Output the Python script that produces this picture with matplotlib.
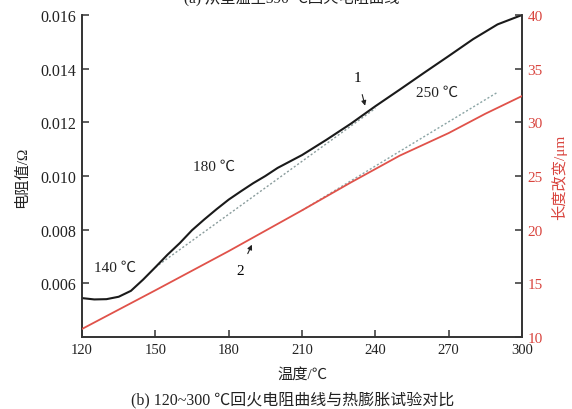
import matplotlib
matplotlib.use("Agg")
import matplotlib.pyplot as plt
import numpy as np

plt.rcParams['font.family'] = ['Liberation Serif', 'Noto Sans CJK SC', 'DejaVu Sans']

# resistance curve (curve 1), left axis
temp_r = [120, 125, 130, 135, 140, 145, 150, 155, 160, 165, 170, 175, 180, 185,
          190, 195, 200, 210, 220, 230, 240, 250, 260, 270, 280, 290, 300]
resist = [0.00545, 0.00540, 0.00541, 0.00550, 0.00572, 0.00614, 0.00660, 0.00707,
          0.00750, 0.00798, 0.00838, 0.00876, 0.00912, 0.00943, 0.00973, 0.01000,
          0.01030, 0.01078, 0.01135, 0.01195, 0.01260, 0.01322, 0.01385, 0.01447,
          0.01510, 0.01565, 0.01600]

# linear reference for curve 1
temp_d1 = [150, 240]
resist_d1 = [0.00660, 0.01252]

# dilatometry curve (curve 2), right axis
temp_l = [120, 150, 180, 210, 230, 250, 270, 285, 300]
length = [10.75, 14.35, 18.0, 21.8, 24.4, 26.9, 29.0, 30.8, 32.45]

# linear reference for curve 2
temp_d2 = [210, 290]
length_d2 = [21.8, 32.8]

red = '#d9453f'
spine_col = '#333333'

fig = plt.figure(figsize=(5.72, 4.10), dpi=100)
ax = fig.add_axes([0.1434, 0.1756, 0.7692, 0.7854])
ax2 = ax.twinx()

ax.plot(temp_r, resist, color='#1a1a1a', linewidth=1.5, zorder=3)
ax.plot(temp_d1, resist_d1, color='#8a9c9c', linewidth=1.0, linestyle=(0, (1.5, 1.5)), zorder=2)
ax2.plot(temp_l, length, color='#e0524a', linewidth=1.3, zorder=3)
ax2.plot(temp_d2, length_d2, color='#8aa4a4', linewidth=1.0, linestyle=(0, (1.5, 1.5)), zorder=2)

ax.set_xlim(120, 300)
ax.set_ylim(0.004, 0.016)
ax2.set_ylim(10, 40)
ax.set_xticks([120, 150, 180, 210, 240, 270, 300])
ax.set_yticks([0.006, 0.008, 0.010, 0.012, 0.014, 0.016])
ax.set_yticklabels(['0.006', '0.008', '0.010', '0.012', '0.014', '0.016'])
ax2.set_yticks([10, 15, 20, 25, 30, 35, 40])

for a in (ax, ax2):
    a.spines['top'].set_visible(False)
    for s in ('left', 'right', 'bottom'):
        a.spines[s].set_color(spine_col)
        a.spines[s].set_linewidth(1.2)

ax.tick_params(axis='both', direction='in', length=5, width=1.1, color=spine_col,
               labelsize=10.5, labelcolor='#222222', pad=4)
ax.tick_params(axis='y', labelsize=11.5)
ax2.tick_params(axis='y', direction='in', length=5, width=1.1, color=spine_col,
                labelsize=11, labelcolor=red, pad=4)

ax.set_xlabel('温度/℃', fontsize=11, color='#222222', labelpad=8)
ax.set_ylabel('电阻值/Ω', fontsize=11, color='#222222', labelpad=8)
ax2.set_ylabel('长度改变/μm', fontsize=11, color=red, labelpad=6)

ax.text(133.5, 0.00661, '140 ℃', fontsize=11, ha='center', va='center', color='#222222')
ax.text(174, 0.01037, '180 ℃', fontsize=11, ha='center', va='center', color='#222222')
ax.text(265.2, 0.01313, '250 ℃', fontsize=11, ha='center', va='center', color='#222222')

ax.annotate('1', xy=(235.8, 0.01262), xytext=(232.8, 0.01368), fontsize=11,
            ha='center', va='center',
            arrowprops=dict(arrowstyle='-|>', color='#222222', lw=0.8,
                            shrinkA=6, shrinkB=0, mutation_scale=7))
ax2.annotate('2', xy=(189.5, 18.6), xytext=(184.6, 16.2), fontsize=11,
             ha='center', va='center',
             arrowprops=dict(arrowstyle='-|>', color='#222222', lw=0.8,
                             shrinkA=6, shrinkB=0, mutation_scale=7))

fig.text(0.512, 0.0244, '(b) 120~300 ℃回火电阻曲线与热膨胀试验对比', fontsize=11.5,
         ha='center', va='center', color='#222222')
# top caption of the upper panel, cut off by the frame in the source
fig.text(0.51, 1.004, '(a) 从室温至390 ℃回火电阻曲线', fontsize=11,
         ha='center', va='center', color='#222222')

fig.savefig('out.png', dpi=100)
